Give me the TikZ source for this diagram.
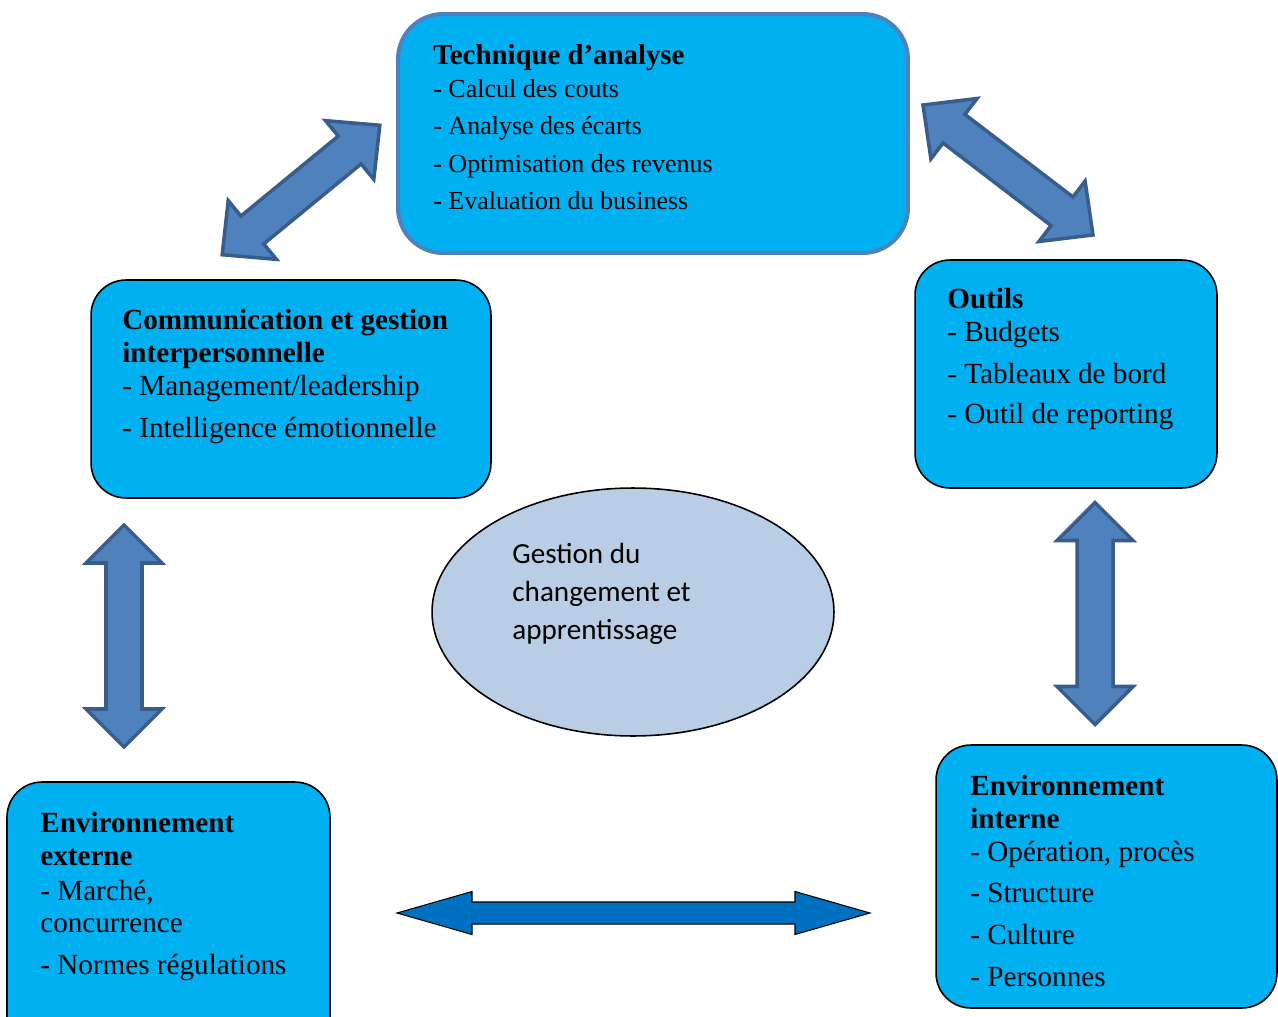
\documentclass[tikz,border=0pt]{standalone}
\usepackage{fontspec}
\setmainfont{Liberation Serif}
\newfontfamily\calibfont{Carlito}
\usetikzlibrary{shapes.geometric}

\definecolor{boxcyan}{HTML}{00B0F0}
\definecolor{steel}{HTML}{4F81BD}
\definecolor{steeldark}{HTML}{385D8A}
\definecolor{ellfill}{HTML}{B9CDE5}
\definecolor{arrowblue}{HTML}{0070C0}

% fat double arrow: style, centre, angle, half length, head length, half head width, half shaft width
\newcommand{\fatarrow}[7]{%
  \begin{scope}[shift={#2}, rotate=#3]
    \draw[#1] (-#4,0) -- (-#4+#5,#6) -- (-#4+#5,#7) -- (#4-#5,#7) -- (#4-#5,#6) -- (#4,0)
      -- (#4-#5,-#6) -- (#4-#5,-#7) -- (-#4+#5,-#7) -- (-#4+#5,-#6) -- cycle;
  \end{scope}}

\begin{document}
\begin{tikzpicture}[x=0.02cm, y=-0.02cm,
    box/.style={draw=black, line width=0.9pt, fill=boxcyan, rounded corners=0.7cm, inner sep=0pt},
    topbox/.style={draw=steel, line width=2.3pt, fill=boxcyan, rounded corners=0.9cm, inner sep=0pt},
    txt/.style={anchor=north west, align=left, inner sep=0pt, font=\fontsize{16.6}{18.7}\selectfont},
    steelarrow/.style={draw=steeldark, fill=steel, line width=2pt, line join=miter},
    bluearrow/.style={draw=black, fill=arrowblue, line width=0.6pt, line join=miter}]
    \clip (0,0) rectangle (1278,1017);

    % boxes
    \node[topbox, minimum width=10.2cm, minimum height=4.78cm] (tech) at (653,133.5) {};
    \node[box, minimum width=8cm, minimum height=4.36cm] (comm) at (291,389) {};
    \node[box, minimum width=6.04cm, minimum height=4.56cm] (outils) at (1066,374) {};
    \node[box, minimum width=6.46cm, minimum height=5.56cm] (externe) at (168.5,921) {};
    \node[box, minimum width=6.82cm, minimum height=5.26cm] (interne) at (1106.5,876.5) {};
    \node[ellipse, draw=black, line width=0.9pt, fill=ellfill,
        minimum width=8.04cm, minimum height=4.96cm] (change) at (633,612) {};

    % texts
    \node[txt, font=\fontsize{14.8}{18.7}\selectfont] (techtxt) at (433,44)
        {{\fontsize{16.4}{18.7}\selectfont\bfseries Technique d’analyse}\\
         - Calcul des couts\\[2.6pt] - Analyse des écarts\\[2.6pt]
         - Optimisation des revenus\\[2.6pt] - Evaluation du business};
    \node[txt] (commtxt) at (122,309)
        {\textbf{Communication et gestion}\\ \textbf{interpersonnelle}\\
         - Management/leadership\\[5.1pt] - Intelligence émotionnelle};
    \node[txt] (outilstxt) at (947,288)
        {\textbf{Outils}\\ - Budgets\\[5.1pt] - Tableaux de bord\\[4pt] - Outil de reporting};
    \node[txt] (externetxt) at (40,812)
        {\textbf{Environnement}\\ \textbf{externe}\\[1pt] - Marché,\\ concurrence\\[5.1pt] - Normes régulations};
    \begin{scope}
        \clip (936,745) rectangle (1278,986);
        \node[txt] (internetxt) at (970,775)
            {\textbf{Environnement}\\ \textbf{interne}\\ - Opération, procès\\[5pt] - Structure\\[5pt]
             - Culture\\[5pt] - Personnes};
    \end{scope}
    \node[txt, font=\calibfont\fontsize{16.6}{21.6}\selectfont] (changetxt) at (512,543)
        {Gestion du\\ changement et\\ apprentissage};

    % arrows
    \coordinate (tc) at (301,190);
    \coordinate (to) at (1008,170);
    \coordinate (ce) at (124,636);
    \coordinate (oi) at (1095,613.5);
    \coordinate (ei) at (633.5,913);
    \fatarrow{steelarrow}{(tc)}{39.4}{102}{39}{38}{18}
    \fatarrow{steelarrow}{(to)}{-37.4}{107}{39}{38}{18}
    \fatarrow{steelarrow}{(ce)}{90}{111}{38}{38}{18}
    \fatarrow{steelarrow}{(oi)}{90}{111}{38}{38}{18}
    \fatarrow{bluearrow}{(ei)}{0}{236.5}{75}{21.5}{11}
\end{tikzpicture}
\end{document}
